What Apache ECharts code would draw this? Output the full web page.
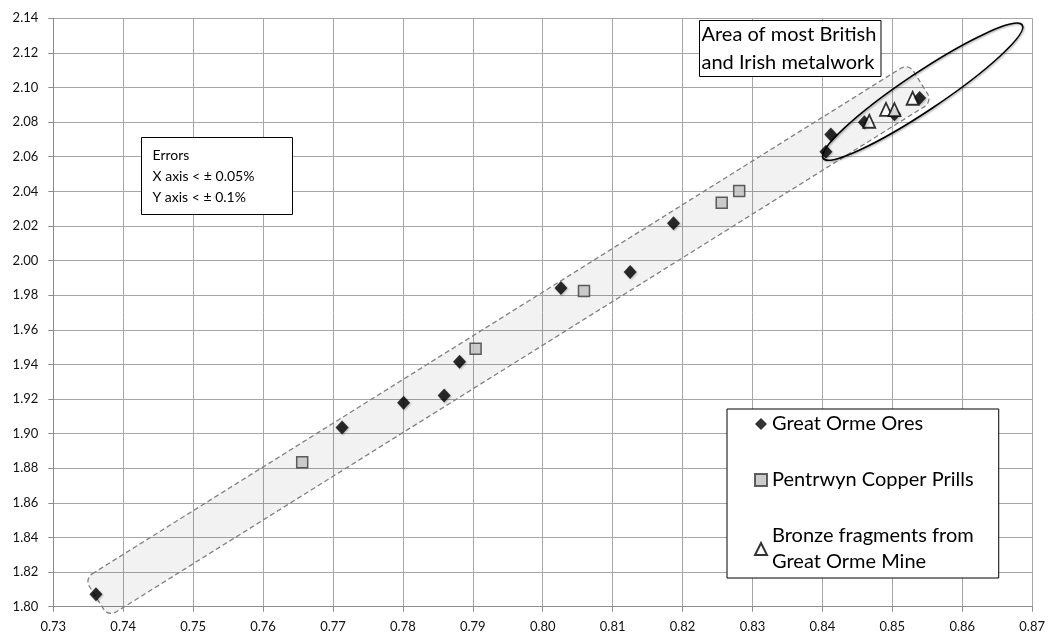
<!DOCTYPE html>
<html>
<head>
<meta charset="utf-8">
<script src="https://cdn.jsdelivr.net/npm/echarts@6/dist/echarts.min.js"></script>
<style>
html,body{margin:0;padding:0;background:#fff;}
#c{width:1048px;height:634px;}
</style>
</head>
<body>
<div id="c"></div>
<script>
// ---- data ----
var greatOrmeOres = [
  [0.7361, 1.8072], [0.7713, 1.9036], [0.7801, 1.9178], [0.7859, 1.9221],
  [0.7881, 1.9415], [0.8026, 1.9841], [0.8125, 1.9934], [0.8187, 2.0215],
  [0.8405, 2.0629], [0.8412, 2.0729], [0.8460, 2.0800], [0.8503, 2.0845],
  [0.8539, 2.0940]
];
var pentrwynPrills = [
  [0.7656, 1.8834], [0.7904, 1.9490], [0.8059, 1.9824], [0.8256, 2.0334],
  [0.8281, 2.0402]
];
var bronzeFragments = [
  [0.8467, 2.0805], [0.8491, 2.0874], [0.8503, 2.0872], [0.8529, 2.0938]
];
var seriesNames = ['Great Orme Ores', 'Pentrwyn Copper Prills', 'Bronze fragments from\nGreat Orme Mine'];
var xTicks = {min: 0.73, max: 0.87, interval: 0.01};
var yTicks = {min: 1.80, max: 2.14, interval: 0.02};
// annotation anchors (data coordinates)
var bandEnds = [[0.73617, 1.8052], [0.85403, 2.1029]];
var ellipseTips = [[0.8401, 2.0591], [0.86857, 2.1361]];
var noteText = 'Area of most British\nand Irish metalwork';
var errorsText = 'Errors\nX axis < \u00B1 0.05%\nY axis < \u00B1 0.1%';

var FONT = 'Lato, "Open Sans", sans-serif';
var chart = echarts.init(document.getElementById('c'), null, {renderer: 'canvas'});

var gridColor = '#a6a6a6';
function axisCommon(t) {
  return {
    type: 'value', min: t.min, max: t.max, interval: t.interval,
    axisLine: {show: true, onZero: false, lineStyle: {color: '#8c8c8c', width: 1}},
    axisTick: {show: true, inside: false, length: 5, lineStyle: {color: '#8c8c8c'}},
    splitLine: {show: true, lineStyle: {color: gridColor, width: 1}},
    axisLabel: {color: '#111', fontSize: 13, fontFamily: FONT,
      formatter: function (v) { return v.toFixed(2); }}
  };
}
var xAxis = axisCommon(xTicks); xAxis.axisLabel.margin = 14;
var yAxis = axisCommon(yTicks); yAxis.axisLabel.margin = 15;

chart.setOption({
  animation: false,
  backgroundColor: '#fff',
  grid: {left: 53.3, right: 14.7, top: 18.3, bottom: 27.3},
  xAxis: xAxis,
  yAxis: yAxis,
  legend: {
    orient: 'vertical', left: 727, top: 409,
    backgroundColor: '#fff', borderColor: '#000', borderWidth: 1,
    padding: [2, 25, 3, 27], itemGap: 30, itemWidth: 12, itemHeight: 12,
    textStyle: {fontSize: 20, lineHeight: 26, color: '#000', fontFamily: FONT},
    data: seriesNames, selectedMode: false, z: 20
  },
  series: [
    {name: seriesNames[0], type: 'scatter', data: greatOrmeOres, symbol: 'diamond',
     symbolSize: [13, 14], z: 5,
     itemStyle: {color: '#000', shadowColor: 'rgba(0,0,0,0.3)', shadowBlur: 2, shadowOffsetX: 1, shadowOffsetY: 1}},
    {name: seriesNames[1], type: 'scatter', data: pentrwynPrills, symbol: 'rect',
     symbolSize: 11, z: 6,
     itemStyle: {color: '#bfbfbf', borderColor: '#3a3a3a', borderWidth: 1.5}},
    {name: seriesNames[2], type: 'scatter', data: bronzeFragments, symbol: 'triangle',
     symbolSize: [12, 13], z: 7,
     itemStyle: {color: '#fff', borderColor: '#000', borderWidth: 1.8}}
  ]
});

function px(p) { return chart.convertToPixel({gridIndex: 0}, p); }
var b0 = px(bandEnds[0]), b1 = px(bandEnds[1]);
var bcx = (b0[0] + b1[0]) / 2, bcy = (b0[1] + b1[1]) / 2;
var bL = Math.hypot(b1[0] - b0[0], b1[1] - b0[1]);
var bAng = Math.atan2(b0[1] - b1[1], b1[0] - b0[0]);
var bH = 45;

var e0 = px(ellipseTips[0]), e1 = px(ellipseTips[1]);
var ecx = (e0[0] + e1[0]) / 2, ecy = (e0[1] + e1[1]) / 2;
var eA = Math.hypot(e1[0] - e0[0], e1[1] - e0[1]) / 2;
var eAng = Math.atan2(e0[1] - e1[1], e1[0] - e0[0]);

chart.setOption({
  graphic: [
    {type: 'rect', x: bcx, y: bcy, rotation: bAng, z: 1,
     shape: {x: -bL / 2, y: -bH / 2, width: bL, height: bH, r: 9},
     style: {fill: 'rgba(0,0,0,0.05)', stroke: '#808080', lineWidth: 1.3, lineDash: [5, 3]}},
    {type: 'ellipse', x: ecx, y: ecy, rotation: eAng, z: 8,
     shape: {cx: 0, cy: 0, rx: eA, ry: 19},
     style: {fill: 'none', stroke: '#000', lineWidth: 1.6,
       shadowColor: 'rgba(0,0,0,0.35)', shadowBlur: 2, shadowOffsetX: 1, shadowOffsetY: 1}},
    {type: 'rect', z: 10, shape: {x: 699.5, y: 20.5, width: 181.5, height: 56},
     style: {fill: '#fff', stroke: '#000', lineWidth: 1}},
    {type: 'text', z: 11, x: 701.5, y: 21,
     style: {text: noteText, font: '20px ' + FONT, lineHeight: 28, fill: '#000',
       textVerticalAlign: 'top', verticalAlign: 'top'}},
    {type: 'rect', z: 10, shape: {x: 141.5, y: 137.5, width: 151, height: 77},
     style: {fill: '#fff', stroke: '#000', lineWidth: 1}},
    {type: 'text', z: 11, x: 152.5, y: 144.5,
     style: {text: errorsText, font: '14px ' + FONT, lineHeight: 21, fill: '#000',
       textVerticalAlign: 'top', verticalAlign: 'top'}}
  ]
});
</script>
</body>
</html>
